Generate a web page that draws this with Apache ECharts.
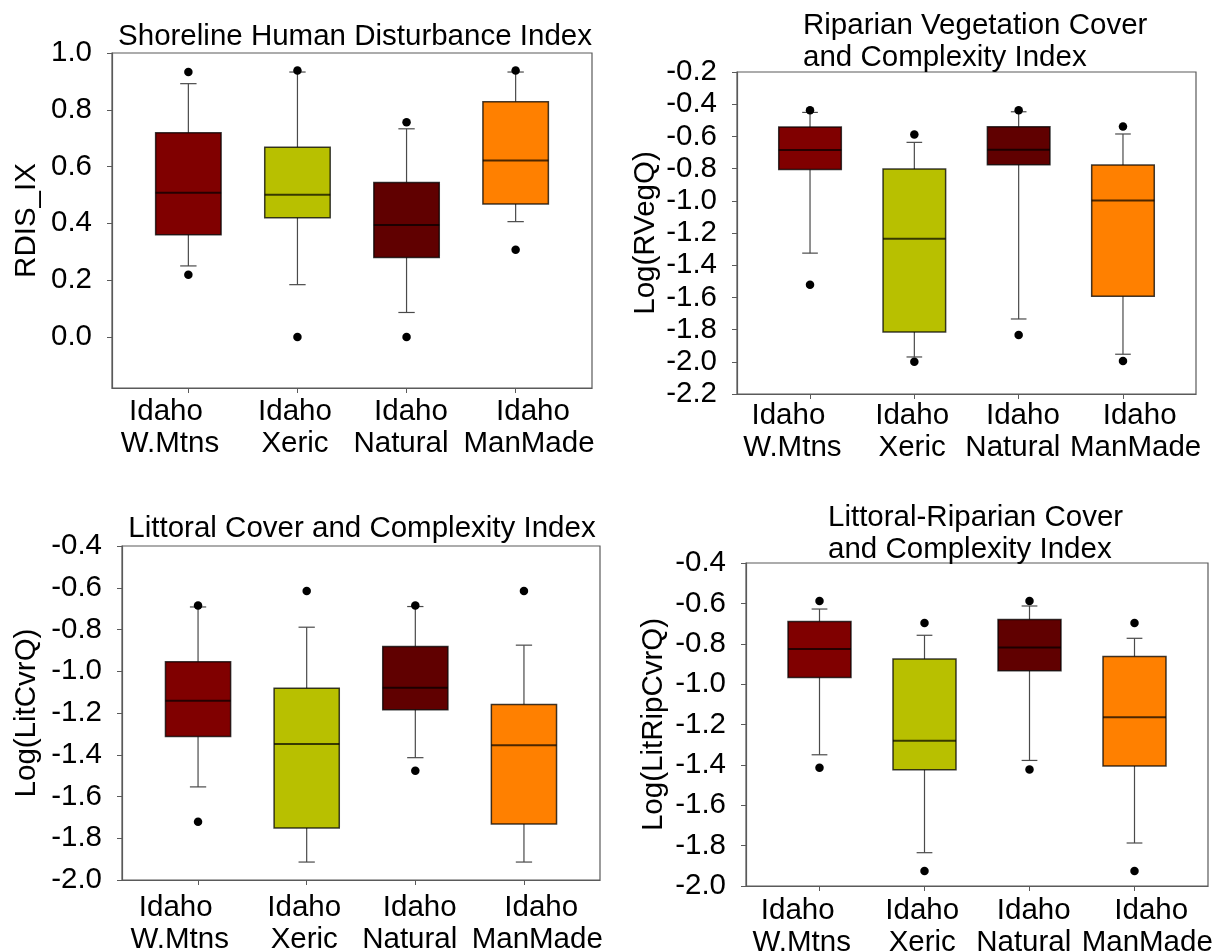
<!DOCTYPE html>
<html>
<head>
<meta charset="utf-8">
<title>Idaho lake habitat indices</title>
<script src="https://cdn.jsdelivr.net/npm/echarts@6/dist/echarts.min.js"></script>
<style>
  html, body { margin: 0; padding: 0; background: #ffffff; }
  #chart { width: 1212px; height: 951px; }
</style>
</head>
<body>
<div id="chart"></div>
<script>
// Groups along each x axis: first and second label line
const groupRegion = ['Idaho', 'Idaho', 'Idaho', 'Idaho'];
const groupNames = ['W.Mtns', 'Xeric', 'Natural', 'ManMade'];

// Box summaries per group: [lower whisker, Q1, median, Q3, upper whisker]
const rdisBoxes = [
  [0.250, 0.360, 0.508, 0.719, 0.892],
  [0.184, 0.420, 0.501, 0.668, 0.933],
  [0.086, 0.280, 0.394, 0.544, 0.733],
  [0.406, 0.468, 0.621, 0.828, 0.933]
];
const rdisOutliers = [[0.219, 0.933], [0.000, 0.938], [0.000, 0.756], [0.307, 0.938]];
const rdisTicks = [0.0, 0.2, 0.4, 0.6, 0.8, 1.0];

const rvegBoxes = [
  [-1.325, -0.805, -0.685, -0.542, -0.451],
  [-1.970, -1.815, -1.236, -0.803, -0.637],
  [-1.734, -0.776, -0.683, -0.540, -0.447],
  [-1.953, -1.593, -0.998, -0.778, -0.585]
];
const rvegOutliers = [[-1.522, -0.438], [-1.999, -0.588], [-1.833, -0.438], [-1.995, -0.538]];
const rvegTicks = [-2.2, -2.0, -1.8, -1.6, -1.4, -1.2, -1.0, -0.8, -0.6, -0.4, -0.2];

const litCvrBoxes = [
  [-1.554, -1.313, -1.141, -0.955, -0.692],
  [-1.914, -1.751, -1.348, -1.082, -0.789],
  [-1.414, -1.184, -1.079, -0.881, -0.690],
  [-1.914, -1.732, -1.355, -1.159, -0.875]
];
const litCvrOutliers = [[-1.721, -0.685], [-0.615], [-1.477, -0.685], [-0.615]];
const litCvrTicks = [-2.0, -1.8, -1.6, -1.4, -1.2, -1.0, -0.8, -0.6, -0.4];

const litRipBoxes = [
  [-1.350, -0.967, -0.826, -0.690, -0.628],
  [-1.835, -1.424, -1.281, -0.875, -0.758],
  [-1.378, -0.934, -0.819, -0.680, -0.613],
  [-1.787, -1.405, -1.164, -0.863, -0.773]
];
const litRipOutliers = [[-1.414, -0.588], [-1.926, -0.697], [-1.423, -0.588], [-1.926, -0.697]];
const litRipTicks = [-2.0, -1.8, -1.6, -1.4, -1.2, -1.0, -0.8, -0.6, -0.4];

// Styling
const FONT = "'Liberation Sans', Arial, Helvetica, sans-serif";
const FONT_SIZE = 29.5;
const boxColors = ['#800000', '#b8c000', '#600000', '#ff8000'];
const FRAME = '#5a5a5a';
const BOX_WIDTH = 0.6;   // in x-axis units
const CAP_WIDTH = 0.15;  // in x-axis units
const GROUP_POS = [1, 2, 3, 4];
// small horizontal nudges (px) of the two label lines under each group
const labelNudge = [[-6, -2], [3, 3], [-1, -11], [1, -3]];

const panels = [
  { title: 'Shoreline Human Disturbance Index', titleX: 355, titleY: 21, titleAlign: 'center',
    yName: 'RDIS_IX', nameGap: 70, boxes: rdisBoxes, outliers: rdisOutliers, ticks: rdisTicks,
    yMin: -0.18, yMax: 1.0, grid: { left: 112, top: 53, width: 480, height: 335 }, labelMargin: 8 },
  { title: 'Riparian Vegetation Cover\nand Complexity Index', titleX: 803, titleY: 10, titleAlign: 'left',
    yName: 'Log(RVegQ)', nameGap: 76, boxes: rvegBoxes, outliers: rvegOutliers, ticks: rvegTicks,
    yMin: -2.2, yMax: -0.2, grid: { left: 737, top: 72, width: 459, height: 322 }, labelMargin: 6 },
  { title: 'Littoral Cover and Complexity Index', titleX: 362, titleY: 513, titleAlign: 'center',
    yName: 'Log(LitCvrQ)', nameGap: 80, boxes: litCvrBoxes, outliers: litCvrOutliers, ticks: litCvrTicks,
    yMin: -2.0, yMax: -0.4, grid: { left: 122, top: 546, width: 478, height: 334 }, labelMargin: 12 },
  { title: 'Littoral-Riparian Cover\nand Complexity Index', titleX: 828, titleY: 502, titleAlign: 'left',
    yName: 'Log(LitRipCvrQ)', nameGap: 77, boxes: litRipBoxes, outliers: litRipOutliers, ticks: litRipTicks,
    yMin: -2.0, yMax: -0.4, grid: { left: 746, top: 563, width: 462, height: 323 }, labelMargin: 9 }
];

// rich-text styles that shift each label line sideways via asymmetric padding
const labelRich = {};
labelNudge.forEach((pair, g) => {
  pair.forEach((d, line) => {
    labelRich['l' + g + '_' + line] = {
      fontSize: FONT_SIZE, fontFamily: FONT, color: '#000', lineHeight: 32,
      padding: d >= 0 ? [0, 0, 0, 2 * d] : [0, -2 * d, 0, 0]
    };
  });
});

function groupLabel(value, g) {
  return '{l' + g + '_0|' + groupRegion[g] + '}\n{l' + g + '_1|' + groupNames[g] + '}';
}

function renderBox(params, api) {
  const x = api.value(0);
  const lo = api.coord([x, api.value(1)]);
  const q1 = api.coord([x, api.value(2)]);
  const md = api.coord([x, api.value(3)]);
  const q3 = api.coord([x, api.value(4)]);
  const hi = api.coord([x, api.value(5)]);
  const bw = api.size([BOX_WIDTH, 0])[0];
  const cw = api.size([CAP_WIDTH, 0])[0];
  const cx = q1[0];
  const whisker = { stroke: '#4a4a4a', lineWidth: 1.2 };
  return {
    type: 'group',
    children: [
      { type: 'line', shape: { x1: cx, y1: q3[1], x2: cx, y2: hi[1] }, style: whisker },
      { type: 'line', shape: { x1: cx, y1: q1[1], x2: cx, y2: lo[1] }, style: whisker },
      { type: 'line', shape: { x1: cx - cw / 2, y1: hi[1], x2: cx + cw / 2, y2: hi[1] }, style: whisker },
      { type: 'line', shape: { x1: cx - cw / 2, y1: lo[1], x2: cx + cw / 2, y2: lo[1] }, style: whisker },
      { type: 'rect', shape: { x: cx - bw / 2, y: q3[1], width: bw, height: q1[1] - q3[1] },
        style: { fill: boxColors[params.dataIndex], stroke: 'rgba(0,0,0,0.75)', lineWidth: 1.5 } },
      { type: 'line', shape: { x1: cx - bw / 2, y1: md[1], x2: cx + bw / 2, y2: md[1] },
        style: { stroke: 'rgba(0,0,0,0.7)', lineWidth: 2 } }
    ]
  };
}

const option = {
  backgroundColor: '#ffffff',
  animation: false,
  textStyle: { fontFamily: FONT },
  grid: [], xAxis: [], yAxis: [], series: [], graphic: []
};

panels.forEach((p, i) => {
  option.grid.push(Object.assign({
    show: true, borderColor: FRAME, borderWidth: 1.2, backgroundColor: 'transparent',
    containLabel: false, outerBoundsMode: 'none'
  }, p.grid));
  // numeric x axis: places the boxes and the tick marks
  option.xAxis.push({
    type: 'value', gridIndex: i, position: 'bottom', min: 0.3, max: 4.7,
    axisLine: { show: true, onZero: false, lineStyle: { color: FRAME, width: 1.2 } },
    splitLine: { show: false },
    axisTick: { show: true, length: 5, inside: false, customValues: GROUP_POS, lineStyle: { color: FRAME } },
    axisLabel: { show: false }
  });
  // group names, one band per group across the frame
  option.xAxis.push({
    type: 'category', gridIndex: i, position: 'bottom', data: groupNames, boundaryGap: true,
    axisLine: { show: false }, axisTick: { show: false }, splitLine: { show: false },
    axisLabel: {
      interval: 0, margin: p.labelMargin,
      formatter: groupLabel, rich: labelRich,
      color: '#000', fontSize: FONT_SIZE, fontFamily: FONT, lineHeight: 32, align: 'center'
    }
  });
  option.yAxis.push({
    type: 'value', gridIndex: i, min: p.yMin, max: p.yMax,
    name: p.yName, nameLocation: 'middle', nameGap: p.nameGap,
    nameTextStyle: { color: '#000', fontSize: FONT_SIZE, fontFamily: FONT },
    axisLine: { show: true, onZero: false, lineStyle: { color: FRAME, width: 1.2 } },
    splitLine: { show: false },
    axisTick: { show: true, length: 5, inside: false, customValues: p.ticks, lineStyle: { color: FRAME } },
    axisLabel: {
      customValues: p.ticks, margin: 20,
      showMinLabel: true, showMaxLabel: true,
      formatter: v => v.toFixed(1),
      color: '#000', fontSize: FONT_SIZE, fontFamily: FONT
    }
  });
  option.series.push({
    type: 'custom', xAxisIndex: 2 * i, yAxisIndex: i,
    renderItem: renderBox,
    encode: { x: 0, y: [1, 2, 3, 4, 5] },
    data: p.boxes.map((b, g) => [GROUP_POS[g]].concat(b)),
    z: 2
  });
  const pts = [];
  p.outliers.forEach((vals, g) => vals.forEach(v => pts.push([GROUP_POS[g], v])));
  option.series.push({
    type: 'scatter', xAxisIndex: 2 * i, yAxisIndex: i,
    symbol: 'circle', symbolSize: 8.5,
    itemStyle: { color: '#000', opacity: 1 },
    data: pts, z: 3
  });
  option.graphic.push({
    type: 'text', x: p.titleX, y: p.titleY,
    style: {
      text: p.title, fill: '#000', font: FONT_SIZE + 'px ' + FONT,
      textAlign: p.titleAlign, textVerticalAlign: 'top', lineHeight: 32
    }
  });
});

const chart = echarts.init(document.getElementById('chart'), null, { renderer: 'canvas' });
chart.setOption(option);
</script>
</body>
</html>
